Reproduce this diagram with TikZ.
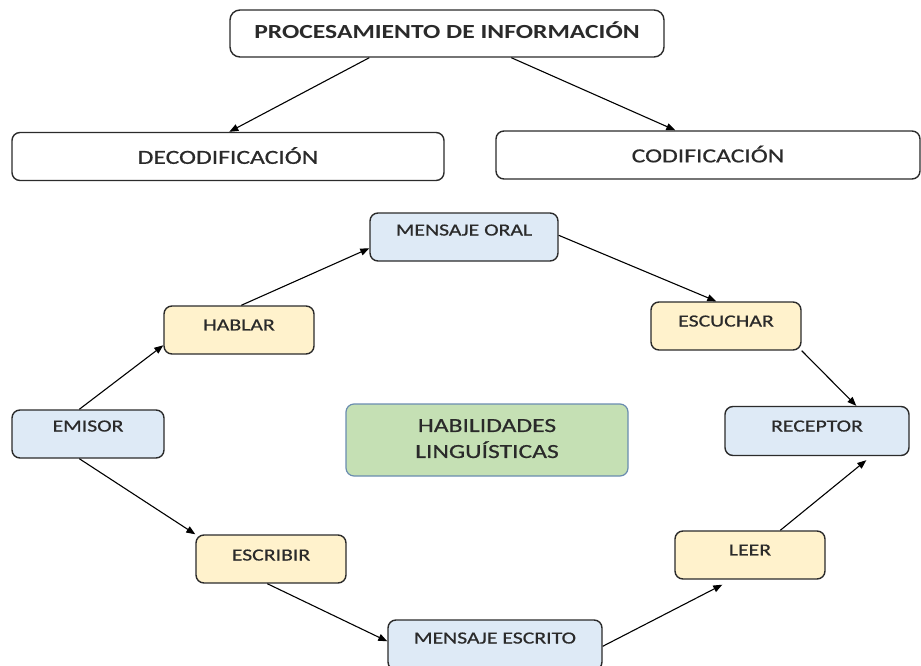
\documentclass[tikz,border=0pt]{standalone}
\usepackage{fontspec}
\setmainfont{Carlito}[FakeStretch=1.28, UprightFeatures={FakeBold=0.6}]
\usetikzlibrary{arrows.meta,calc}
\definecolor{bluefill}{HTML}{DEEAF6}
\definecolor{yellowfill}{HTML}{FFF2CC}
\definecolor{greenfill}{HTML}{C5E0B4}
\definecolor{greenborder}{HTML}{6A8CB0}
\definecolor{boxline}{HTML}{2B2B2B}
\definecolor{txt}{HTML}{2A2A2A}
\tikzset{
  base/.style={draw=boxline, line width=1.4pt, rounded corners=8pt, inner sep=0pt, text=txt, align=center},
  whitebox/.style={base, fill=white, font=\fontsize{20}{26}\selectfont},
  bluebox/.style={base, fill=bluefill},
  yellowbox/.style={base, fill=yellowfill},
  midtext/.style={font=\fontsize{17}{21}\selectfont},
  msgtext/.style={font=\fontsize{17}{21}\selectfont},
  greenbox/.style={base, draw=greenborder, line width=1.2pt, fill=greenfill, font=\fontsize{20}{26}\selectfont},
  tup/.style={text depth=#1},
  arr/.style={draw=black, line width=1.1pt, -{Triangle[length=9pt,width=7pt]}}
}
\begin{document}
\begin{tikzpicture}[x=1pt,y=-1pt]
\useasboundingbox (0,0) rectangle (921,666);
\node[whitebox, rounded corners=10pt, minimum width=434pt, minimum height=47pt, tup=6pt, font=\bfseries\fontsize{20}{26}\selectfont] (proc) at (447,33.5) {PROCESAMIENTO DE INFORMACIÓN};
\node[whitebox, minimum width=432pt, minimum height=48pt, tup=2pt] (decod) at (228,156.5) {DECODIFICACIÓN};
\node[whitebox, minimum width=424pt, minimum height=48pt, tup=2pt] (cod) at (708,155) {CODIFICACIÓN};
\node[bluebox, msgtext, minimum width=188pt, minimum height=48pt, tup=14pt] (mo) at (464,237) {MENSAJE ORAL};
\node[yellowbox, midtext, minimum width=150pt, minimum height=48pt, tup=10pt] (hablar) at (239,330) {HABLAR};
\node[yellowbox, midtext, minimum width=150pt, minimum height=48pt, tup=10pt] (escuchar) at (726,326) {ESCUCHAR};
\node[bluebox, midtext, minimum width=152pt, minimum height=48pt, tup=16pt] (emisor) at (88,434) {EMISOR};
\node[bluebox, midtext, minimum width=184pt, minimum height=49pt, tup=10pt] (receptor) at (817,431) {RECEPTOR};
\node[greenbox, minimum width=282pt, minimum height=72pt, tup=3pt] (habil) at (487,440) {HABILIDADES\\LINGUÍSTICAS};
\node[yellowbox, midtext, minimum width=150pt, minimum height=48pt, tup=8pt] (escribir) at (271,559) {ESCRIBIR};
\node[yellowbox, midtext, minimum width=150pt, minimum height=48pt, tup=10pt] (leer) at (750,555) {LEER};
\node[bluebox, msgtext, minimum width=214pt, minimum height=50pt, tup=14pt] (mescrito) at (495,645) {MENSAJE ESCRITO};

\draw[arr] ($(proc.south west)+(140,0)$) -- ($(decod.north west)+(218,0)$);
\draw[arr] ($(proc.south west)+(282,0)$) -- ($(cod.north west)+(180,0)$);
\draw[arr] ($(emisor.north west)+(68,0)$) -- ($(hablar.north west)+(0,40)$);
\draw[arr] ($(hablar.north west)+(78,0)$) -- ($(mo.north west)+(0,36)$);
\draw[arr] ($(mo.north east)+(0,23)$) -- ($(escuchar.north west)+(66,0)$);
\draw[arr] (escuchar.south east) -- ($(receptor.north west)+(132,0)$);
\draw[arr] ($(emisor.south west)+(68,0)$) -- ($(escribir.north west)+(0,0)$);
\draw[arr] ($(escribir.south west)+(72,0)$) -- ($(mescrito.north west)+(0,22)$);
\draw[arr] ($(mescrito.north east)+(0,27)$) -- ($(leer.south west)+(48,5)$);
\draw[arr] ($(leer.north west)+(106,0)$) -- ($(receptor.south west)+(142,4)$);
\end{tikzpicture}
\end{document}
